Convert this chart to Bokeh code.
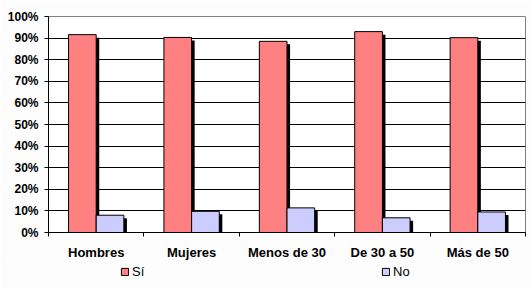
from bokeh.plotting import figure
from bokeh.layouts import column
from bokeh.models import Range1d, FixedTicker, Legend, LegendItem, PrintfTickFormatter
from bokeh.embed import file_html
from bokeh.resources import INLINE

categories = ["Hombres", "Mujeres", "Menos de 30", "De 30 a 50", "Más de 50"]
si_values = [91.6, 90.3, 88.5, 93.0, 90.2]
no_values = [8.0, 9.8, 11.4, 6.8, 9.5]
y_ticks = [0, 10, 20, 30, 40, 50, 60, 70, 80, 90, 100]
series_names = ["Sí", "No"]

FONT = "Liberation Sans"
RED = "#ff8080"
BLUE = "#ccccff"
BG = "#fdfdfd"

n = len(categories)
centers = [i + 0.5 for i in range(n)]
boundaries = [float(i) for i in range(n + 1)]
bw = 0.29
x_si = [c - bw / 2 for c in centers]
x_no = [c + bw / 2 for c in centers]
sh_dx = 0.032
sh_dy = 1.4

p = figure(width=530, height=262, output_backend="svg", toolbar_location=None,
           x_range=Range1d(0, n), y_range=Range1d(0, 100),
           min_border_left=48, min_border_right=5, min_border_top=16, min_border_bottom=29)
p.background_fill_color = "white"
p.border_fill_color = BG
p.outline_line_color = "#808080"
p.outline_line_width = 1

# shadows
p.vbar(x=[x + sh_dx for x in x_si], top=[v - sh_dy for v in si_values], width=bw,
       fill_color="black", line_color=None)
p.vbar(x=[x + sh_dx for x in x_no], top=[max(v - sh_dy, 0) for v in no_values], width=bw,
       fill_color="black", line_color=None)
p.vbar(x=x_si, top=si_values, width=bw, fill_color=RED, line_color="black", line_width=1)
p.vbar(x=x_no, top=no_values, width=bw, fill_color=BLUE, line_color="black", line_width=1)

# y axis
p.yaxis.ticker = FixedTicker(ticks=y_ticks)
p.yaxis.formatter = PrintfTickFormatter(format="%d%%")
p.yaxis.major_label_text_font = FONT
p.yaxis.major_label_text_font_style = "bold"
p.yaxis.major_label_text_font_size = "12px"
p.yaxis.major_label_text_color = "black"
p.yaxis.axis_line_color = "black"
p.yaxis.major_tick_line_color = "black"
p.yaxis.major_tick_out = 4
p.yaxis.major_tick_in = 0
p.yaxis.minor_tick_line_color = None
p.yaxis.major_label_standoff = 6

# x axis
p.xaxis.ticker = FixedTicker(ticks=centers, minor_ticks=boundaries)
p.xaxis.major_label_overrides = {c: lab for c, lab in zip(centers, categories)}
p.xaxis.major_label_text_font = FONT
p.xaxis.major_label_text_font_style = "bold"
p.xaxis.major_label_text_font_size = "13px"
p.xaxis.major_label_text_color = "black"
p.xaxis.axis_line_color = "black"
p.xaxis.major_tick_line_color = None
p.xaxis.major_tick_out = 4
p.xaxis.major_tick_in = 0
p.xaxis.minor_tick_line_color = "black"
p.xaxis.minor_tick_out = 4
p.xaxis.minor_tick_in = 0
p.xaxis.major_label_standoff = 8

p.xgrid.grid_line_color = None
p.ygrid.ticker = FixedTicker(ticks=y_ticks[1:-1])
p.ygrid.grid_line_color = "black"
p.ygrid.grid_line_width = 1

# legend strip (its frame aligns with the main frame in the column)
lf = figure(width=530, height=26, output_backend="svg", toolbar_location=None,
            x_range=Range1d(0, 1), y_range=Range1d(0, 1),
            x_axis_type=None, y_axis_type=None,
            min_border_left=0, min_border_right=0, min_border_top=0, min_border_bottom=0)
lf.background_fill_color = BG
lf.border_fill_color = BG
lf.outline_line_color = None
lf.xgrid.visible = False
lf.ygrid.visible = False
# proxy glyphs kept outside the visible range, used only for legend swatches
l_si = lf.vbar(x=[-10], top=[-10], width=1, fill_color=RED, line_color="black")
l_no = lf.vbar(x=[-10], top=[-10], width=1, fill_color=BLUE, line_color="black")

legend = Legend(items=[LegendItem(label=series_names[0], renderers=[l_si]),
                       LegendItem(label=series_names[1], renderers=[l_no])],
                orientation="horizontal", location=(72, 9), spacing=229,
                glyph_width=9, glyph_height=9, label_standoff=3,
                label_text_font=FONT, label_text_font_size="13px",
                label_text_color="black", padding=2, margin=0,
                background_fill_alpha=0, border_line_color=None)
lf.add_layout(legend, "center")

layout = column(p, lf, spacing=0)
open("out.html", "w").write(file_html(layout, INLINE))
